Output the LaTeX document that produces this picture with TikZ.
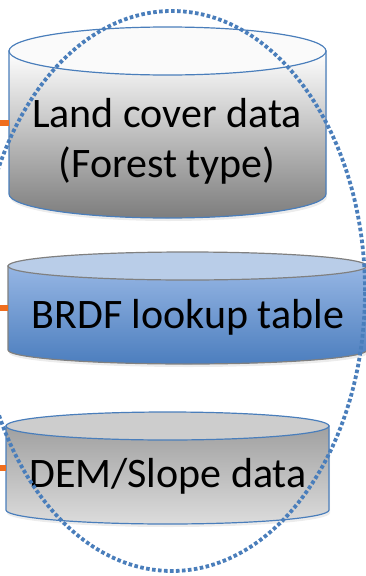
\documentclass[tikz,border=0pt]{standalone}
\usepackage{fontspec}
\setmainfont{Carlito}
\usetikzlibrary{shapes.geometric, shadows, positioning}
\usepackage{xcolor}

\definecolor{edgeblue}{RGB}{74,126,187}
\definecolor{edgegray}{RGB}{128,128,128}
\definecolor{feedorange}{RGB}{240,110,30}
\definecolor{landcap}{RGB}{250,250,250}
\definecolor{landlow}{RGB}{125,125,125}
\definecolor{brdfcap}{RGB}{185,205,232}
\definecolor{brdfhigh}{RGB}{150,182,228}
\definecolor{brdflow}{RGB}{76,126,190}
\definecolor{demcap}{RGB}{205,205,205}
\definecolor{demhigh}{RGB}{160,160,160}
\definecolor{demlow}{RGB}{220,220,220}

\begin{document}
\begin{tikzpicture}[
    x=1pt, y=-1pt,
    body/.style={rectangle, inner sep=0pt, outer sep=0pt},
    side/.style={
        line width=1.2pt,
        drop shadow={opacity=0.15, shadow xshift=1pt, shadow yshift=-3pt}
    },
    lid/.style={line width=1.2pt},
    txt/.style={font=\fontsize{42}{50}\selectfont, align=center, inner sep=0pt},
    feed/.style={draw=feedorange, line width=6pt},
    ring/.style={
        ellipse,
        draw=edgeblue,
        line width=3.8pt,
        dash pattern=on 3.6pt off 2.4pt,
        minimum width=386pt,
        minimum height=560pt,
        inner sep=0pt
    }
]
\useasboundingbox (0,0) rectangle (366,576);

\node (land) [body, minimum width=317pt, minimum height=143pt] at (167.5,122.5) {};
\node (brdf) [body, minimum width=359pt, minimum height=84pt] at (187.5,308) {};
\node (dem) [body, minimum width=323pt, minimum height=84pt] at (167.5,468) {};

\draw [side, draw=edgeblue, top color=white, bottom color=landlow]
    (land.north west) -- (land.south west)
    arc [start angle=180, end angle=360, x radius=158.5pt, y radius=24pt]
    -- (land.north east) -- cycle;
\draw [lid, draw=edgeblue, fill=landcap] (land.north) ellipse [x radius=158.5pt, y radius=24pt];

\draw [side, draw=edgegray, top color=brdfhigh, bottom color=brdflow]
    (brdf.north west) -- (brdf.south west)
    arc [start angle=180, end angle=360, x radius=179.5pt, y radius=14pt]
    -- (brdf.north east) -- cycle;
\draw [lid, draw=edgegray, fill=brdfcap] (brdf.north) ellipse [x radius=179.5pt, y radius=14pt];

\draw [side, draw=edgeblue, top color=demhigh, bottom color=demlow]
    (dem.north west) -- (dem.south west)
    arc [start angle=180, end angle=360, x radius=161.5pt, y radius=14pt]
    -- (dem.north east) -- cycle;
\draw [lid, draw=edgeblue, fill=demcap] (dem.north) ellipse [x radius=161.5pt, y radius=14pt];

\node (landtext) [txt] at (167,141.5) {Land cover data\\(Forest type)};
\node (brdftext) [txt, anchor=base] at (188,328) {BRDF lookup table};
\node (demtext) [txt, anchor=base] at (168,487) {DEM/Slope data};

\coordinate (landin) at ([xshift=-12pt]land.west);
\coordinate (brdfin) at ([xshift=-12pt]brdf.west);
\coordinate (demin) at ([xshift=-12pt]dem.west);
\draw [feed] (landin) -- (land.west);
\draw [feed] (brdfin) -- (brdf.west);
\draw [feed] (demin) -- (dem.west);

\node (group) [ring] at (172,291) {};

\end{tikzpicture}
\end{document}
